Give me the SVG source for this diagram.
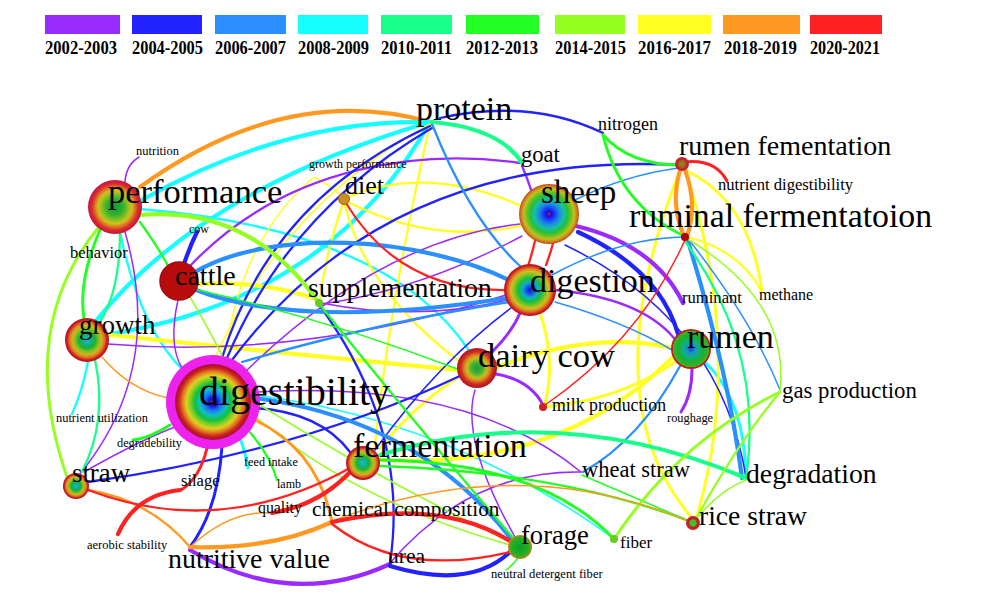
<svg xmlns="http://www.w3.org/2000/svg" width="1005" height="605" viewBox="0 0 1005 605">
<defs>
<style>
.e{fill:none;stroke-linecap:round}
.c1{stroke:#9a2bff}.c2{stroke:#2222ff}.c3{stroke:#2b8fff}.c4{stroke:#14ffff}.c5{stroke:#19ff8c}
.c6{stroke:#22ff22}.c7{stroke:#95ff22}.c8{stroke:#ffff22}.c9{stroke:#ff9922}.c10{stroke:#ff2222}
.w1{stroke-width:1.5}.w2{stroke-width:2.3}.w3{stroke-width:3}.w4{stroke-width:4.2}
.lb{font-family:"Liberation Serif","Times New Roman",serif;fill:#000}
.lg{font-family:"Liberation Serif","Times New Roman",serif;font-weight:bold;font-size:18px;fill:#000}
</style>
<radialGradient id="gSheep"><stop offset="0" stop-color="#e01080"/><stop offset="0.08" stop-color="#1010d0"/><stop offset="0.2" stop-color="#1a40ff"/><stop offset="0.35" stop-color="#1a90e0"/><stop offset="0.5" stop-color="#18c0a0"/><stop offset="0.62" stop-color="#20c040"/><stop offset="0.74" stop-color="#70c020"/><stop offset="0.84" stop-color="#c0c020"/><stop offset="0.93" stop-color="#d08020"/><stop offset="1" stop-color="#c04010"/></radialGradient>
<radialGradient id="gDig"><stop offset="0" stop-color="#8010c0"/><stop offset="0.1" stop-color="#1010d0"/><stop offset="0.22" stop-color="#1a70ff"/><stop offset="0.35" stop-color="#10c0c0"/><stop offset="0.48" stop-color="#10c040"/><stop offset="0.6" stop-color="#80d020"/><stop offset="0.7" stop-color="#e0d020"/><stop offset="0.8" stop-color="#e08020"/><stop offset="0.9" stop-color="#d02020"/><stop offset="1" stop-color="#a01030"/></radialGradient>
<radialGradient id="gDign"><stop offset="0" stop-color="#1010d0"/><stop offset="0.15" stop-color="#2050f0"/><stop offset="0.3" stop-color="#10b0c0"/><stop offset="0.45" stop-color="#10c040"/><stop offset="0.6" stop-color="#80c020"/><stop offset="0.72" stop-color="#d0c020"/><stop offset="0.84" stop-color="#e07020"/><stop offset="0.93" stop-color="#d02020"/><stop offset="1" stop-color="#b01020"/></radialGradient>
<radialGradient id="gRumen"><stop offset="0" stop-color="#1040d0"/><stop offset="0.2" stop-color="#1a90d0"/><stop offset="0.4" stop-color="#10b080"/><stop offset="0.65" stop-color="#18b030"/><stop offset="0.9" stop-color="#40b020"/><stop offset="0.92" stop-color="#c02020"/><stop offset="1" stop-color="#c02020"/></radialGradient>
<radialGradient id="gGrowth"><stop offset="0" stop-color="#10c0d0"/><stop offset="0.2" stop-color="#10b090"/><stop offset="0.38" stop-color="#20b030"/><stop offset="0.55" stop-color="#90c020"/><stop offset="0.68" stop-color="#d0b020"/><stop offset="0.8" stop-color="#e07020"/><stop offset="0.9" stop-color="#d02020"/><stop offset="1" stop-color="#b01020"/></radialGradient>
<radialGradient id="gPerf"><stop offset="0" stop-color="#10a030"/><stop offset="0.3" stop-color="#30b030"/><stop offset="0.5" stop-color="#90c020"/><stop offset="0.62" stop-color="#d0c020"/><stop offset="0.75" stop-color="#e07020"/><stop offset="0.85" stop-color="#d83030"/><stop offset="1" stop-color="#c81040"/></radialGradient>
<radialGradient id="gDairy"><stop offset="0" stop-color="#10a040"/><stop offset="0.3" stop-color="#50b030"/><stop offset="0.5" stop-color="#c0c020"/><stop offset="0.65" stop-color="#e08020"/><stop offset="0.8" stop-color="#d03020"/><stop offset="1" stop-color="#b01020"/></radialGradient>
<radialGradient id="gForage"><stop offset="0" stop-color="#10a030"/><stop offset="0.7" stop-color="#20b020"/><stop offset="0.85" stop-color="#60a020"/><stop offset="1" stop-color="#d08020"/></radialGradient>
<radialGradient id="gRice"><stop offset="0" stop-color="#40c030"/><stop offset="0.45" stop-color="#40c030"/><stop offset="0.6" stop-color="#c02020"/><stop offset="1" stop-color="#d02030"/></radialGradient>
<radialGradient id="gRF"><stop offset="0" stop-color="#909020"/><stop offset="0.5" stop-color="#a06020"/><stop offset="0.75" stop-color="#c02020"/><stop offset="1" stop-color="#d02040"/></radialGradient>
</defs>
<rect width="1005" height="605" fill="#fff"/>
<g id="legend">
<rect x="45" y="15" width="75" height="19" fill="#9a2bff"/>
<rect x="132" y="15" width="70" height="19" fill="#2222ff"/>
<rect x="215" y="15" width="71" height="19" fill="#2b8fff"/>
<rect x="298" y="15" width="70" height="19" fill="#14ffff"/>
<rect x="381" y="15" width="71" height="19" fill="#19ff8c"/>
<rect x="466" y="15" width="73" height="19" fill="#22ff22"/>
<rect x="555" y="15" width="70" height="19" fill="#95ff22"/>
<rect x="638" y="15" width="73" height="19" fill="#ffff22"/>
<rect x="723" y="15" width="77" height="19" fill="#ff9922"/>
<rect x="810" y="15" width="72" height="19" fill="#ff2222"/>
<text class="lg" x="45" y="54" textLength="72" lengthAdjust="spacingAndGlyphs">2002-2003</text>
<text class="lg" x="132" y="54" textLength="71" lengthAdjust="spacingAndGlyphs">2004-2005</text>
<text class="lg" x="215" y="54" textLength="71" lengthAdjust="spacingAndGlyphs">2006-2007</text>
<text class="lg" x="298" y="54" textLength="71" lengthAdjust="spacingAndGlyphs">2008-2009</text>
<text class="lg" x="381" y="54" textLength="71" lengthAdjust="spacingAndGlyphs">2010-2011</text>
<text class="lg" x="466" y="54" textLength="72" lengthAdjust="spacingAndGlyphs">2012-2013</text>
<text class="lg" x="555" y="54" textLength="71" lengthAdjust="spacingAndGlyphs">2014-2015</text>
<text class="lg" x="638" y="54" textLength="73" lengthAdjust="spacingAndGlyphs">2016-2017</text>
<text class="lg" x="724" y="54" textLength="73" lengthAdjust="spacingAndGlyphs">2018-2019</text>
<text class="lg" x="810" y="54" textLength="70" lengthAdjust="spacingAndGlyphs">2020-2021</text>
</g>
<g id="connectors">
<path class="e c4 w4" d="M95,322 Q200,190 430,122"/>
<path class="e c4 w4" d="M105,335 Q330,300 430,122"/>
<path class="e c9 w4" d="M140,187 Q285,82 430,122"/>
<path class="e c4 w4" d="M142,200 Q285,119 430,122"/>
<path class="e c4 w2" d="M140,209 Q390,230 470,352"/>
<path class="e c4 w2" d="M88,362 Q82,392 72,414"/>
<path class="e c4 w2" d="M120,232 Q140,330 185,372"/>
<path class="e c4 w3" d="M240,438 Q246,455 248,468"/>
<path class="e c4 w3" d="M705,362 Q745,400 746,478"/>
<path class="e c4 w1" d="M255,395 Q450,420 613,538"/>
<path class="e c8 w4" d="M198,284 Q260,280 316,299"/>
<path class="e c8 w4" d="M110,335 Q300,355 458,370"/>
<path class="e c8 w4" d="M380,460 Q560,470 672,358"/>
<path class="e c8 w4" d="M495,368 Q590,330 672,348"/>
<path class="e c8 w3" d="M545,407 Q620,400 675,362"/>
<path class="e c8 w3" d="M540,313 Q556,360 545,404"/>
<path class="e c8 w3" d="M685,170 Q750,200 762,292"/>
<path class="e c8 w3" d="M685,170 Q745,350 697,516"/>
<path class="e c8 w3" d="M680,170 Q590,400 692,518"/>
<path class="e c8 w2" d="M687,237 Q740,250 762,292"/>
<path class="e c8 w2" d="M430,124 Q390,300 375,445"/>
<path class="e c8 w2" d="M346,201 Q430,245 520,226"/>
<path class="e c8 w2" d="M350,196 Q430,165 521,206"/>
<path class="e c8 w1" d="M343,197 Q330,185 314,177"/>
<path class="e c8 w2" d="M343,204 Q326,250 320,300"/>
<path class="e c8 w2" d="M345,205 Q365,290 460,362"/>
<path class="e c8 w1" d="M313,178 Q240,240 225,358"/>
<path class="e c8 w1" d="M215,358 Q282,205 430,124"/>
<path class="e c8 w3" d="M380,448 Q420,400 462,375"/>
<path class="e c1 w1" d="M125,182 Q126,165 139,157"/>
<path class="e c1 w1" d="M125,232 Q165,370 80,474"/>
<path class="e c1 w2" d="M520,163 C430,150 290,160 190,266"/>
<path class="e c1 w2" d="M522,166 Q528,180 531,190"/>
<path class="e c1 w4" d="M576,226 Q655,245 683,303"/>
<path class="e c1 w2" d="M555,290 Q640,298 674,338"/>
<path class="e c1 w3" d="M692,369 Q692,395 681,412"/>
<path class="e c1 w3" d="M496,374 Q530,380 543,405"/>
<path class="e c1 w3" d="M520,313 Q512,332 492,352"/>
<path class="e c1 w1" d="M522,236 Q420,290 322,304"/>
<path class="e c1 w1" d="M520,224 Q380,240 245,372"/>
<path class="e c1 w1" d="M108,344 Q300,360 506,295"/>
<path class="e c1 w1" d="M178,300 Q168,345 182,368"/>
<path class="e c1 w4" d="M190,550 Q290,610 390,564"/>
<path class="e c1 w1" d="M390,563 Q470,470 581,472"/>
<path class="e c1 w1" d="M258,392 Q470,380 581,472"/>
<path class="e c1 w1" d="M321,303 Q420,322 507,300"/>
<path class="e c1 w1" d="M84,472 Q140,440 180,425"/>
<path class="e c1 w1" d="M515,537 Q460,440 475,390"/>
<path class="e c2 w4" d="M184,264 Q190,246 197,232"/>
<path class="e c2 w3" d="M222,446 Q218,510 190,547"/>
<path class="e c2 w4" d="M390,566 Q470,590 510,552"/>
<path class="e c2 w2" d="M320,306 Q410,430 390,563"/>
<path class="e c2 w2" d="M255,408 Q320,412 350,452"/>
<path class="e c2 w2" d="M88,482 Q300,452 462,375"/>
<path class="e c2 w2" d="M440,118 Q530,98 603,133"/>
<path class="e c2 w2" d="M232,360 Q390,150 680,165"/>
<path class="e c2 w4" d="M578,232 Q660,270 678,334"/>
<path class="e c2 w1" d="M565,245 Q720,320 746,477"/>
<path class="e c2 w2" d="M222,358 Q270,200 430,126"/>
<path class="e c2 w2" d="M227,358 Q288,212 432,128"/>
<path class="e c2 w1" d="M375,450 Q440,360 515,305"/>
<path class="e c3 w4" d="M195,272 C270,228 420,235 513,282"/>
<path class="e c3 w4" d="M196,290 Q300,330 508,298"/>
<path class="e c3 w4" d="M255,398 Q420,420 512,540"/>
<path class="e c3 w2" d="M432,124 Q470,220 520,266"/>
<path class="e c3 w4" d="M687,238 Q728,370 742,478"/>
<path class="e c3 w1" d="M575,200 Q625,175 679,168"/>
<path class="e c3 w1" d="M552,275 Q620,238 684,237"/>
<path class="e c3 w1" d="M689,240 Q752,320 780,390"/>
<path class="e c3 w2" d="M680,366 Q640,440 583,472"/>
<path class="e c3 w2" d="M242,362 Q380,322 509,302"/>
<path class="e c3 w1" d="M555,302 Q625,322 672,350"/>
<path class="e c5 w4" d="M432,122 Q500,128 522,163"/>
<path class="e c5 w4" d="M380,455 Q560,400 746,478"/>
<path class="e c5 w2" d="M120,232 Q120,290 100,322"/>
<path class="e c5 w2" d="M95,360 Q108,420 82,472"/>
<path class="e c5 w2" d="M684,240 Q765,350 746,478"/>
<path class="e c6 w3" d="M100,230 Q78,280 84,318"/>
<path class="e c6 w2" d="M140,222 Q160,250 168,266"/>
<path class="e c6 w3" d="M170,425 Q150,438 133,440"/>
<path class="e c6 w2" d="M248,430 Q270,455 277,480"/>
<path class="e c6 w3" d="M380,460 Q540,462 613,538"/>
<path class="e c6 w3" d="M603,135 Q630,165 680,165"/>
<path class="e c6 w3" d="M603,135 Q620,205 684,236"/>
<path class="e c6 w2" d="M380,466 Q560,472 689,521"/>
<path class="e c6 w2" d="M320,305 Q420,430 515,540"/>
<path class="e c6 w1" d="M198,290 Q330,320 460,370"/>
<path class="e c6 w1" d="M582,475 Q640,500 689,521"/>
<path class="e c6 w1" d="M518,558 Q512,566 506,570"/>
<path class="e c7 w4" d="M140,215 Q250,205 319,303"/>
<path class="e c7 w3" d="M98,228 Q15,330 68,480"/>
<path class="e c7 w3" d="M780,392 Q680,440 614,539"/>
<path class="e c7 w2" d="M780,392 Q740,440 697,517"/>
<path class="e c7 w1" d="M697,518 Q720,490 746,480"/>
<path class="e c7 w1" d="M686,238 Q790,300 780,390"/>
<path class="e c7 w1" d="M255,402 Q380,480 510,542"/>
<path class="e c7 w1" d="M190,297 Q215,340 223,358"/>
<path class="e c7 w1" d="M250,412 Q350,500 510,545"/>
<path class="e c9 w4" d="M680,170 Q670,205 684,236"/>
<path class="e c9 w4" d="M685,170 Q698,205 687,236"/>
<path class="e c9 w3" d="M255,420 Q318,450 332,522"/>
<path class="e c9 w2" d="M88,490 Q150,500 190,547"/>
<path class="e c9 w1" d="M190,547 Q230,510 270,513"/>
<path class="e c9 w4" d="M190,547 Q272,550 332,522"/>
<path class="e c9 w1" d="M335,520 Q520,450 690,522"/>
<path class="e c9 w1" d="M102,357 Q130,390 168,398"/>
<path class="e c10 w3" d="M683,162 Q715,158 727,181"/>
<path class="e c10 w3" d="M207,448 Q200,478 181,490"/>
<path class="e c10 w4" d="M180,490 Q135,495 118,534"/>
<path class="e c10 w2" d="M88,490 Q220,540 350,468"/>
<path class="e c10 w4" d="M352,470 Q320,505 272,513"/>
<path class="e c10 w4" d="M332,522 Q440,498 510,541"/>
<path class="e c10 w2" d="M332,524 Q400,578 510,552"/>
<path class="e c10 w2" d="M346,203 Q400,292 507,290"/>
<path class="e c10 w2" d="M528,266 Q532,254 535,241"/>
<path class="e c10 w2" d="M546,265 Q551,252 553,243"/>
<path class="e c10 w1" d="M545,405 Q640,340 685,240"/>
</g>
<g id="n-performance"><circle cx="115" cy="207" r="27" fill="url(#gPerf)"/><text class="lb" x="108" y="203" font-size="34.5">performance</text></g>
<g id="n-nutrition"><text class="lb" x="136" y="155" font-size="12.5">nutrition</text></g>
<g id="n-cow"><text class="lb" x="189" y="233" font-size="12">cow</text></g>
<g id="n-behavior"><text class="lb" x="70" y="258" font-size="16.5">behavior</text></g>
<g id="n-cattle"><circle cx="179" cy="281" r="19" fill="#b80c0c" stroke="#a00a14" stroke-width="1.5"/><text class="lb" x="175" y="285" font-size="28">cattle</text></g>
<g id="n-growth-performance"><text class="lb" x="309" y="168" font-size="12">growth performance</text></g>
<g id="n-diet"><circle cx="344" cy="199" r="5.5" fill="#c89020" stroke="#b06010" stroke-width="1"/><text class="lb" x="345" y="194" font-size="26">diet</text></g>
<g id="n-supplementation"><circle cx="319" cy="303" r="4" fill="#66cc22"/><text class="lb" x="308" y="297" font-size="27.8">supplementation</text></g>
<g id="n-protein"><text class="lb" x="416" y="120" font-size="34">protein</text></g>
<g id="n-goat"><text class="lb" x="521" y="162" font-size="22.6">goat</text></g>
<g id="n-nitrogen"><text class="lb" x="598" y="130" font-size="18">nitrogen</text></g>
<g id="n-sheep"><circle cx="549" cy="214" r="30" fill="url(#gSheep)"/><text class="lb" x="541" y="203" font-size="33">sheep</text></g>
<g id="n-digestion"><circle cx="530" cy="290" r="26" fill="url(#gDign)"/><text class="lb" x="530" y="292" font-size="34">digestion</text></g>
<g id="n-rumen-fementation"><circle cx="682" cy="164" r="7" fill="url(#gRF)"/><text class="lb" x="679" y="155" font-size="28">rumen fementation</text></g>
<g id="n-nutrient-digestibility"><text class="lb" x="718" y="190" font-size="16.6">nutrient digestibility</text></g>
<g id="n-ruminal-fermentatoion"><circle cx="685" cy="237" r="4" fill="#b00000"/><text class="lb" x="629" y="227" font-size="33.8">ruminal fermentatoion</text></g>
<g id="n-ruminant"><text class="lb" x="682" y="303" font-size="16.6">ruminant</text></g>
<g id="n-methane"><text class="lb" x="759" y="300" font-size="16">methane</text></g>
<g id="n-rumen"><circle cx="691" cy="349" r="20" fill="url(#gRumen)"/><text class="lb" x="687" y="348" font-size="34">rumen</text></g>
<g id="n-gas-production"><text class="lb" x="782" y="398" font-size="22.8">gas production</text></g>
<g id="n-roughage"><text class="lb" x="667" y="422" font-size="12.4">roughage</text></g>
<g id="n-degradation"><text class="lb" x="746" y="483" font-size="27.7">degradation</text></g>
<g id="n-rice-straw"><circle cx="693" cy="523" r="7" fill="url(#gRice)"/><text class="lb" x="699" y="525" font-size="27.6">rice straw</text></g>
<g id="n-fiber"><circle cx="614" cy="539" r="4" fill="#66cc22"/><text class="lb" x="620" y="548" font-size="17">fiber</text></g>
<g id="n-wheat-straw"><text class="lb" x="582" y="477" font-size="22.5">wheat straw</text></g>
<g id="n-dairy-cow"><circle cx="477" cy="368" r="20" fill="url(#gDairy)"/><text class="lb" x="478" y="367" font-size="34.5">dairy cow</text></g>
<g id="n-milk-production"><circle cx="543" cy="407" r="4" fill="#cc2222"/><text class="lb" x="552" y="411" font-size="17.8">milk production</text></g>
<g id="n-fermentation"><circle cx="363" cy="463" r="17" fill="url(#gGrowth)"/><text class="lb" x="353" y="457" font-size="34">fermentation</text></g>
<g id="n-chemical-composition"><text class="lb" x="312" y="516" font-size="21.3">chemical composition</text></g>
<g id="n-forage"><circle cx="520" cy="547" r="12" fill="url(#gForage)"/><text class="lb" x="521" y="544" font-size="26.6">forage</text></g>
<g id="n-ndf"><text class="lb" x="491" y="578" font-size="12.6">neutral detergent fiber</text></g>
<g id="n-urea"><text class="lb" x="388" y="563" font-size="21.5">urea</text></g>
<g id="n-growth"><circle cx="87" cy="340" r="22" fill="url(#gGrowth)"/><text class="lb" x="79" y="334" font-size="27">growth</text></g>
<g id="n-digestibility"><circle cx="213" cy="402" r="47" fill="#ee22ee"/><circle cx="213" cy="402" r="38" fill="url(#gDig)"/><text class="lb" x="199" y="405" font-size="40">digestibility</text></g>
<g id="n-nutrient-utilization"><text class="lb" x="56" y="422" font-size="12.4">nutrient utilization</text></g>
<g id="n-degradebility"><text class="lb" x="117" y="447" font-size="12.3">degradebility</text></g>
<g id="n-feed-intake"><text class="lb" x="244" y="466" font-size="12.2">feed intake</text></g>
<g id="n-lamb"><text class="lb" x="277" y="488" font-size="12">lamb</text></g>
<g id="n-silage"><text class="lb" x="181" y="486" font-size="16.5">silage</text></g>
<g id="n-straw"><circle cx="76" cy="486" r="13" fill="url(#gGrowth)"/><text class="lb" x="72" y="482" font-size="26.8">straw</text></g>
<g id="n-quality"><text class="lb" x="258" y="513" font-size="15.8">quality</text></g>
<g id="n-aerobic-stability"><text class="lb" x="87" y="549" font-size="12.5">aerobic stability</text></g>
<g id="n-nutritive-value"><text class="lb" x="168" y="568" font-size="27.9">nutritive value</text></g>
</svg>
